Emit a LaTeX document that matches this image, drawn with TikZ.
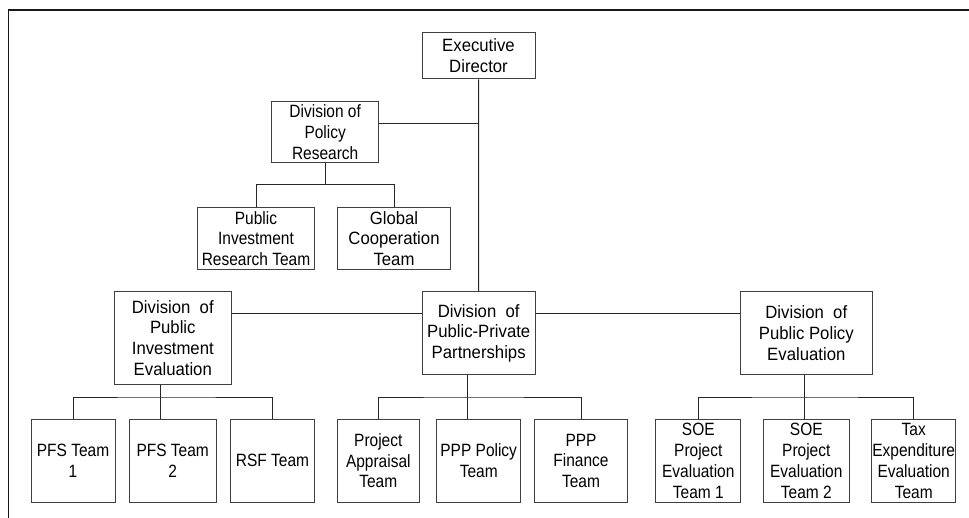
\documentclass[tikz,border=0pt]{standalone}
\usepackage{fontspec}
\setmainfont[FakeStretch=0.94]{Liberation Sans}
\newfontfamily\narrowfont[FakeStretch=0.87]{Liberation Sans}
\begin{document}
\begin{tikzpicture}[x=1pt,y=-1pt,
  unit/.style={draw=black!75, line width=1pt, inner sep=0pt, align=center,
    text=black, font=\fontsize{17.8}{20.8}\selectfont},
  narrow/.style={unit, font=\fontsize{17.8}{20.8}\narrowfont},
  link/.style={draw=black!85, line width=1pt},
  frame/.style={draw=black!90, line width=1.4pt}]
\useasboundingbox (0,0) rectangle (969,518);
% page frame (top and left rules)
\coordinate (fb) at (8.3,518);
\coordinate (fc) at (8.3,10);
\coordinate (fr) at (969,10);
\draw[frame] (fb) -- (fc) -- (fr);

% top level
\node[unit, minimum width=113pt, minimum height=46pt] (ed) at (478.5,56) {Executive\\Director};
\node[narrow, minimum width=107pt, minimum height=61.7pt] (dpr) at (325.2,131.9) {Division of\\Policy\\Research};
\node[narrow, minimum width=116.6pt, minimum height=61.6pt] (pirt) at (256,238.5) {Public\\Investment\\Research Team};
\node[unit, minimum width=113.4pt, minimum height=61.6pt] (gct) at (394,238.5) {Global\\Cooperation\\Team};

% divisions
\node[unit, minimum width=117pt, minimum height=92.3pt] (pie) at (172.8,337.9) {Division~~of\\Public\\Investment\\Evaluation};
\node[unit, minimum width=112.7pt, minimum height=83pt] (ppp) at (478.7,333.2) {Division~~of\\Public-Private\\Partnerships};
\node[unit, minimum width=132pt, minimum height=83pt] (ppe) at (806.3,333.2) {Division~~of\\Public Policy\\Evaluation};

% teams
\node[narrow, minimum width=84pt, minimum height=83pt] (pfs1) at (73,460.8) {PFS Team\\1};
\node[narrow, minimum width=87.3pt, minimum height=83pt] (pfs2) at (172.7,460.8) {PFS Team\\2};
\node[narrow, minimum width=83.6pt, minimum height=83pt] (rsf) at (272.5,460.8) {RSF Team};
\node[narrow, minimum width=82pt, minimum height=83pt] (pa) at (378.3,460.8) {Project\\Appraisal\\Team};
\node[narrow, minimum width=84pt, minimum height=83pt] (ppol) at (478.7,460.8) {PPP Policy\\Team};
\node[narrow, minimum width=93.4pt, minimum height=83pt] (pfin) at (581,460.8) {PPP\\Finance\\Team};
\node[narrow, minimum width=85.3pt, minimum height=83pt] (soe1) at (698.3,460.8) {SOE\\Project\\Evaluation\\Team 1};
\node[narrow, minimum width=86pt, minimum height=83pt] (soe2) at (806.3,460.8) {SOE\\Project\\Evaluation\\Team 2};
\node[narrow, minimum width=84pt, minimum height=83pt] (tax) at (913.7,460.8) {Tax\\Expenditure\\Evaluation\\Team};

% junction points
\coordinate (dprj) at (325.2,123.3);
\coordinate (dprb) at (325.2,184.3);
\coordinate (hl) at (0,314);
\coordinate (pieb) at (160.5,397);
\coordinate (pppb) at (467.3,397);
\coordinate (ppeb) at (804,397);

% spine
\draw[link] (ed.south) -- (ppp.north);
\draw[link] (dpr.east |- dprj) -- (ed.south |- dprj);
% policy research teams
\draw[link] (dpr.south) -- (dprb);
\draw[link] (pirt.north) |- (dprb) -| (gct.north);
% division row
\draw[link] (pie.east |- hl) -- (ppp.west |- hl);
\draw[link] (ppp.east |- hl) -- (ppe.west |- hl);
% public investment evaluation teams
\draw[link] (pie.south -| pieb) -- (pfs2.north -| pieb);
\draw[link] (pfs1.north) |- (pieb) -| (rsf.north);
% public-private partnership teams
\draw[link] (ppp.south -| pppb) -- (ppol.north -| pppb);
\draw[link] (pa.north) |- (pppb) -| (pfin.north);
% public policy evaluation teams
\draw[link] (ppe.south -| ppeb) -- (soe2.north -| ppeb);
\draw[link] (soe1.north) |- (ppeb) -| (tax.north);
\end{tikzpicture}
\end{document}
